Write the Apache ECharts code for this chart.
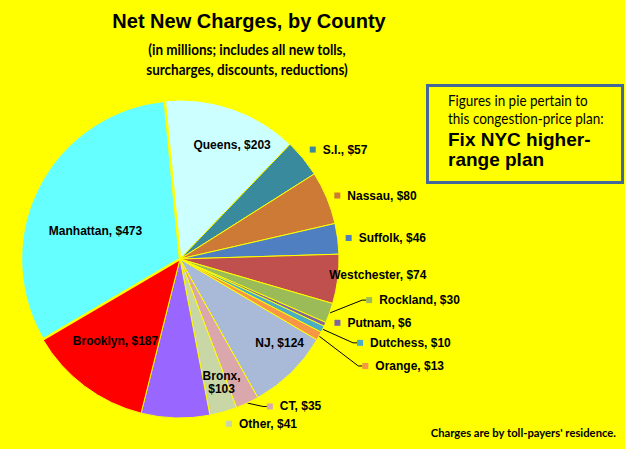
<!DOCTYPE html>
<html><head><meta charset="utf-8">
<script src="https://cdn.jsdelivr.net/npm/echarts@6/dist/echarts.min.js"></script>
<style>html,body{margin:0;padding:0;background:#FFFF00}#c{width:625px;height:449px}</style>
</head><body><div id="c"></div>
<script>
// ---- data ----
const counties = ['Queens','S.I.','Nassau','Suffolk','Westchester','Rockland','Putnam','Dutchess','Orange','NJ','CT','Other','Bronx','Brooklyn','Manhattan'];
const charges  = [203, 57, 80, 46, 74, 30, 6, 10, 13, 124, 35, 41, 103, 187, 473];
const sliceColors = ['#CCFFFF','#3A8A9E','#CC7A36','#4F7FC0','#C0504D','#9BBB59','#8064A2','#4BACC6','#F79646','#A9B9D8','#DAA8AC','#C9D6A6','#9966FF','#FF0000','#66FFFF'];
const titleText = 'Net New Charges, by County';
const subtitleLines = ['(in millions; includes all new tolls,', 'surcharges, discounts, reductions)'];
const noteLines = ['Figures in pie pertain to', 'this congestion-price plan:'];
const planLines = ['Fix NYC higher-', 'range plan'];
const footnote = "Charges are by toll-payers' residence.";

// ---- label placement tweaks (style, not data) ----
const labelTweaks = {
  'Queens':      {mode:'inside',  dx:25,  dy:-36},
  'S.I.':        {mode:'outside', dx:-5,  dy:-5},
  'Nassau':      {mode:'outside', dx:-5,  dy:0},
  'Suffolk':     {mode:'outside', dx:-5,  dy:0},
  'Westchester': {mode:'inside',  dx:116, dy:6},
  'Rockland':    {mode:'outside', dx:24,  dy:-15, line:true},
  'Putnam':      {mode:'outside', dx:-3,  dy:-4},
  'Dutchess':    {mode:'outside', dx:22,  dy:11, line:true},
  'Orange':      {mode:'outside', dx:31,  dy:27, line:true},
  'NJ':          {mode:'inside',  dx:42,  dy:25},
  'CT':          {mode:'outside', dx:10,  dy:-2, line:true},
  'Other':       {mode:'outside', dx:-6,  dy:6},
  'Bronx':       {mode:'inside',  dx:44,  dy:41, wrap:true},
  'Brooklyn':    {mode:'inside',  dx:-15, dy:16},
  'Manhattan':   {mode:'inside',  dx:-11, dy:10}
};

const LABEL_FONT = '"Liberation Sans", Arial, sans-serif';
const SOFT_FONT = 'Lato, "Open Sans", sans-serif';

const rich = { t: {fontSize:12, fontWeight:'bold', fontFamily:LABEL_FONT, color:'#000', padding:[0,0,0,7]} };
sliceColors.forEach((c, i) => { rich['sq' + i] = {width:6, height:6, backgroundColor:c}; });

const pieData = counties.map((name, i) => {
  const tw = labelTweaks[name];
  return {
    name: name,
    value: charges[i],
    itemStyle: {color: sliceColors[i], borderWidth: name === 'Manhattan' ? 2.5 : 1},
    label: {position: tw.mode === 'inside' ? 'inside' : 'outside'},
    labelLine: {show: !!tw.line}
  };
});

const chart = echarts.init(document.getElementById('c'), null, {renderer:'svg'});
chart.setOption({
  backgroundColor: '#FFFF00',
  animation: false,
  graphic: [
    {type:'text', x:249, y:21, style:{text:titleText, font:'bold 20px ' + LABEL_FONT, fill:'#000', align:'center', verticalAlign:'middle'}},
    {type:'text', x:247, y:49, scaleX:0.9, style:{text:subtitleLines[0], font:'bold 15px ' + SOFT_FONT, fill:'#000', align:'center', verticalAlign:'middle'}},
    {type:'text', x:247, y:69, scaleX:0.9, style:{text:subtitleLines[1], font:'bold 15px ' + SOFT_FONT, fill:'#000', align:'center', verticalAlign:'middle'}},
    {type:'rect', shape:{x:427.5, y:85.5, width:195, height:97}, style:{fill:'none', stroke:'#42689A', lineWidth:3}},
    {type:'text', x:448, y:100, scaleX:0.9, style:{text:noteLines[0], font:'15px ' + SOFT_FONT, fill:'#000', align:'left', verticalAlign:'middle'}},
    {type:'text', x:448, y:118, scaleX:0.9, style:{text:noteLines[1], font:'15px ' + SOFT_FONT, fill:'#000', align:'left', verticalAlign:'middle'}},
    {type:'text', x:448, y:139, style:{text:planLines[0], font:'bold 19px ' + LABEL_FONT, fill:'#000', align:'left', verticalAlign:'middle'}},
    {type:'text', x:448, y:159, style:{text:planLines[1], font:'bold 19px ' + LABEL_FONT, fill:'#000', align:'left', verticalAlign:'middle'}},
    {type:'text', x:616, y:432, scaleX:0.94, style:{text:footnote, font:'bold 12px ' + SOFT_FONT, fill:'#000', align:'right', verticalAlign:'middle'}}
  ],
  series: [{
    type: 'pie',
    center: [180, 259],
    radius: [0, 159],
    startAngle: 95.5,
    clockwise: true,
    avoidLabelOverlap: false,
    silent: true,
    emphasis: {disabled: true},
    itemStyle: {borderColor:'#FFFF00', borderWidth:1},
    label: {
      show: true,
      color: '#000',
      fontSize: 12,
      fontWeight: 'bold',
      fontFamily: LABEL_FONT,
      lineHeight: 13,
      distanceToLabelLine: 3,
      rich: rich,
      formatter: function (p) {
        const name = counties[p.dataIndex];
        const tw = labelTweaks[name];
        const txt = name + ',' + (tw.wrap ? '\n' : ' ') + '$' + charges[p.dataIndex];
        if (tw.mode === 'inside') return txt;
        return '{sq' + p.dataIndex + '|}{t|' + txt + '}';
      }
    },
    labelLine: {length: 6, length2: 4, lineStyle: {color:'#000', width:1}},
    labelLayout: function (p) {
      const tw = labelTweaks[counties[p.dataIndex]];
      const r = p.labelRect;
      if (tw.mode === 'inside') {
        return {x: r.x + r.width / 2 + tw.dx, y: r.y + r.height / 2 + tw.dy, align:'center', verticalAlign:'middle'};
      }
      return {x: r.x + tw.dx, y: r.y + r.height / 2 + tw.dy, align:'left', verticalAlign:'middle'};
    },
    data: pieData
  }]
});
</script>
</body></html>
